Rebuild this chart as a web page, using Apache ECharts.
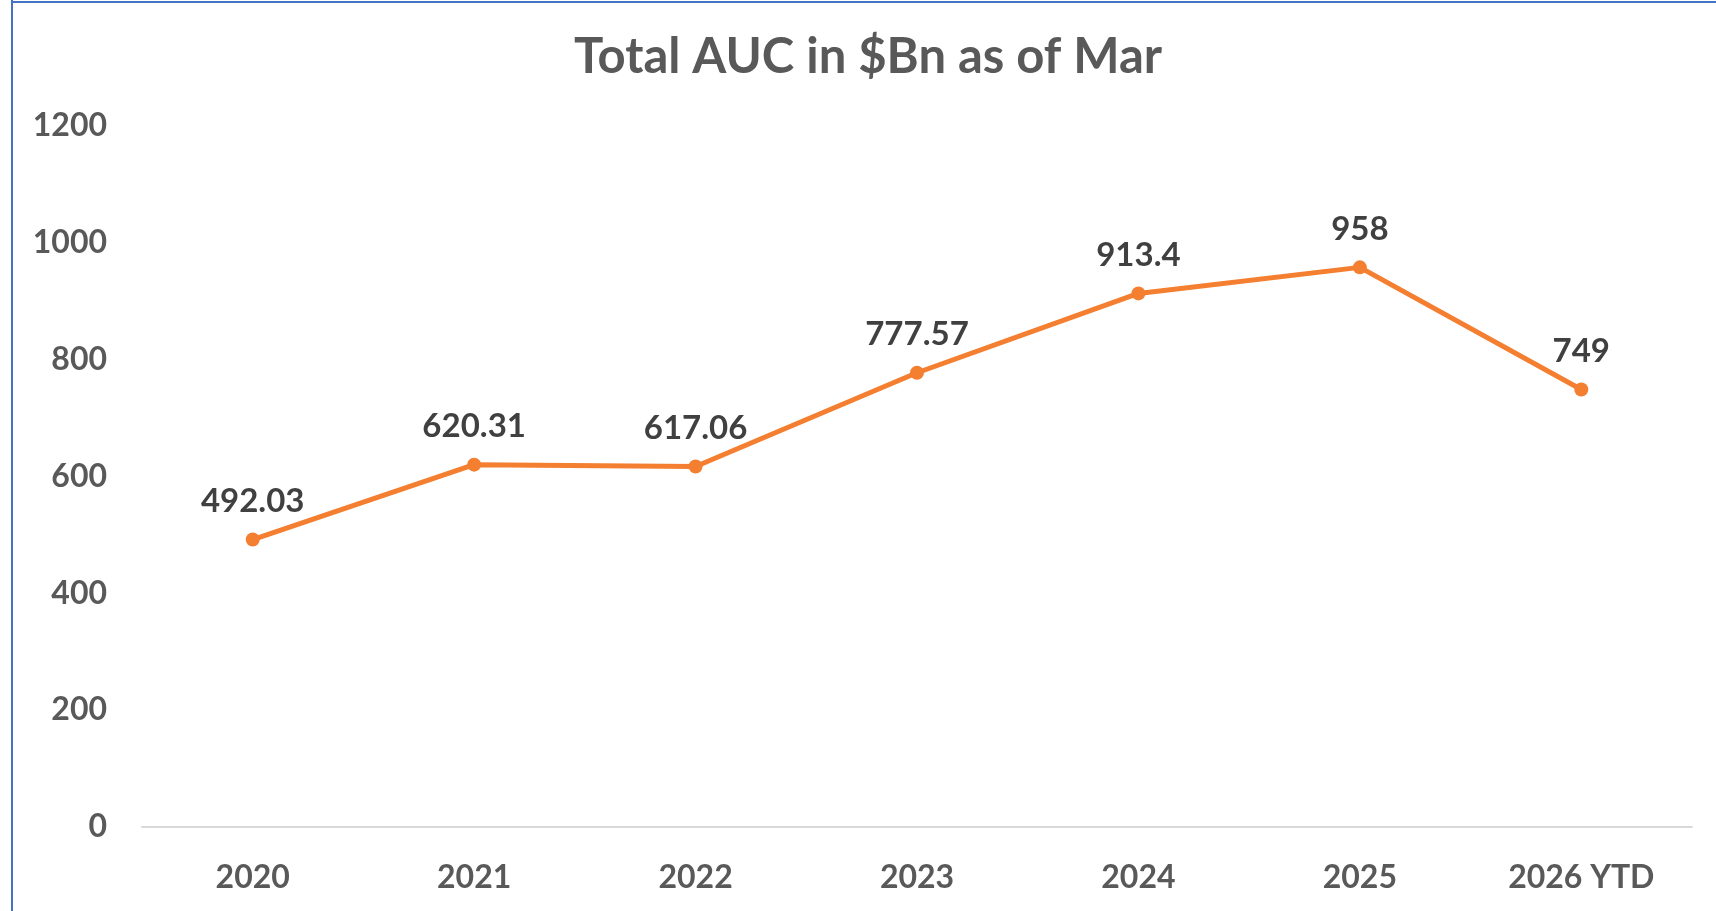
<!DOCTYPE html>
<html lang="en">
<head>
    <meta charset="UTF-8">
    <title>Total AUC in $Bn as of Mar</title>
    <style>
        html, body { margin: 0; padding: 0; background: #fff; }
        #main { width: 1716px; height: 911px; }
    </style>
    <script src="https://cdn.jsdelivr.net/npm/echarts@6/dist/echarts.min.js"></script>
</head>
<body>
<div id="main"></div>
<script>
    // chart data
    var years = ['2020', '2021', '2022', '2023', '2024', '2025', '2026 YTD'];
    var auc = [492.03, 620.31, 617.06, 777.57, 913.4, 958, 749];
    var yTicks = [0, 200, 400, 600, 800, 1000, 1200];

    var myChart = echarts.init(document.getElementById('main'));

    var option = {
        backgroundColor: '#fff',
        textStyle: { fontFamily: 'Lato' },
        title: {
            text: 'Total AUC in $Bn as of Mar',
            left: 569,
            top: 28,
            textStyle: { fontSize: 49, fontWeight: 'bold', color: '#595959', fontFamily: 'Lato' }
        },
        graphic: [
            { type: 'line', shape: { x1: 12, y1: 0, x2: 12, y2: 911 }, style: { stroke: '#4472C4', lineWidth: 2 } },
            { type: 'line', shape: { x1: 12, y1: 2, x2: 1716, y2: 2 }, style: { stroke: '#4472C4', lineWidth: 2 } }
        ],
        grid: { left: 142, right: 24, top: 126, bottom: 84, containLabel: false },
        xAxis: {
            type: 'category',
            data: years,
            axisLine: { lineStyle: { color: '#D9D9D9', width: 2 } },
            axisTick: { show: false },
            axisLabel: { color: '#595959', fontSize: 32, fontWeight: 'bold', margin: 35 }
        },
        yAxis: {
            type: 'value',
            min: yTicks[0],
            max: yTicks[yTicks.length - 1],
            interval: 200,
            splitLine: { show: false },
            axisLine: { show: false },
            axisTick: { show: false },
            axisLabel: {
                color: '#595959', fontSize: 32, fontWeight: 'bold', margin: 35,
                formatter: function (v) { return String(v); }
            }
        },
        series: [{
            type: 'line',
            data: auc,
            symbol: 'circle',
            symbolSize: 14,
            lineStyle: { color: '#F47F30', width: 5 },
            itemStyle: { color: '#F47F30' },
            label: {
                show: true,
                position: 'top',
                distance: 15,
                color: '#404040',
                fontSize: 33,
                fontWeight: 'bold'
            }
        }]
    };

    myChart.setOption(option);
</script>
</body>
</html>
